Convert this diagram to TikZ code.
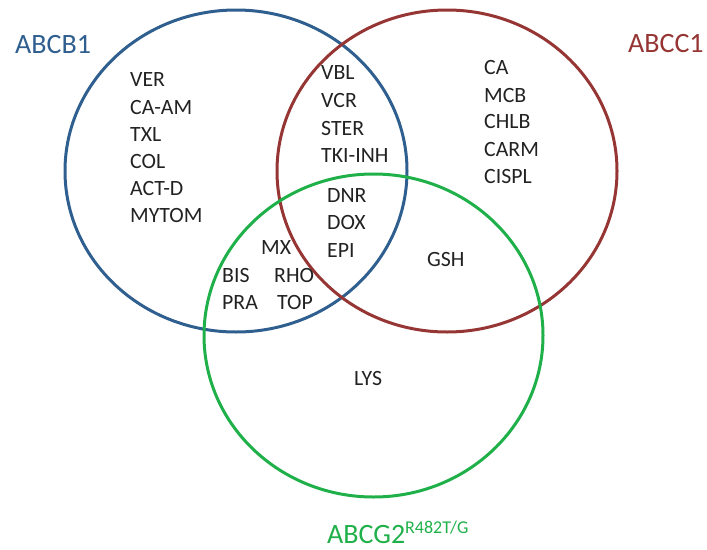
\documentclass[tikz,border=0pt]{standalone}
\usepackage{fontspec}
\setmainfont{Carlito}
\definecolor{vblue}{HTML}{2F5F8F}
\definecolor{vred}{HTML}{963634}
\definecolor{vgreen}{HTML}{20B04A}
\definecolor{vtext}{HTML}{222222}
\begin{document}
\begin{tikzpicture}[x=1pt,y=-1pt,
  ring/.style={line width=3pt},
  item/.style={anchor=base west,inner sep=0pt,text=vtext,font=\fontsize{21.8}{26}\selectfont},
  setlabel/.style={anchor=base west,inner sep=0pt,font=\fontsize{28}{32}\selectfont}]
\useasboundingbox (0,0) rectangle (707,549);
\draw[ring,vblue] (236,171) ellipse [x radius=171pt, y radius=161pt];
\draw[ring,vred] (447,171) ellipse [x radius=170pt, y radius=161pt];
\draw[ring,vgreen] (373.5,335.5) ellipse [x radius=169.5pt, y radius=161.5pt];
\node[setlabel,text=vblue] (lb) at (15,53) {ABCB1};
\node[setlabel,text=vred] (lr) at (628,52) {ABCC1};
\node[setlabel,text=vgreen] (lg) at (327,543) {ABCG2\textsuperscript{\fontsize{18}{20}\selectfont R482T/G}};
% blue only
\node[item] (ver) at (130,86) {VER};
\node[item] (caam) at (130,114) {CA-AM};
\node[item] (txl) at (130,141) {TXL};
\node[item] (col) at (130,168) {COL};
\node[item] (actd) at (130,195) {ACT-D};
\node[item] (mytom) at (130,222) {MYTOM};
% blue & red
\node[item] (vbl) at (321,79) {VBL};
\node[item] (vcr) at (321,107) {VCR};
\node[item] (ster) at (321,135) {STER};
\node[item] (tki) at (321,162) {TKI-INH};
% all three
\node[item] (dnr) at (327,202) {DNR};
\node[item] (dox) at (327,229) {DOX};
\node[item] (epi) at (327,257) {EPI};
% blue & green
\node[item] (mx) at (261,254) {MX};
\node[item] (bis) at (222,282) {BIS};
\node[item] (rho) at (274,282) {RHO};
\node[item] (pra) at (222,309) {PRA};
\node[item] (top) at (277,309) {TOP};
% red only
\node[item] (ca) at (484,74) {CA};
\node[item] (mcb) at (484,102) {MCB};
\node[item] (chlb) at (484,128) {CHLB};
\node[item] (carm) at (484,156) {CARM};
\node[item] (cispl) at (484,183) {CISPL};
% red & green
\node[item] (gsh) at (427,266) {GSH};
% green only
\node[item] (lys) at (354,385) {LYS};
\end{tikzpicture}
\end{document}
